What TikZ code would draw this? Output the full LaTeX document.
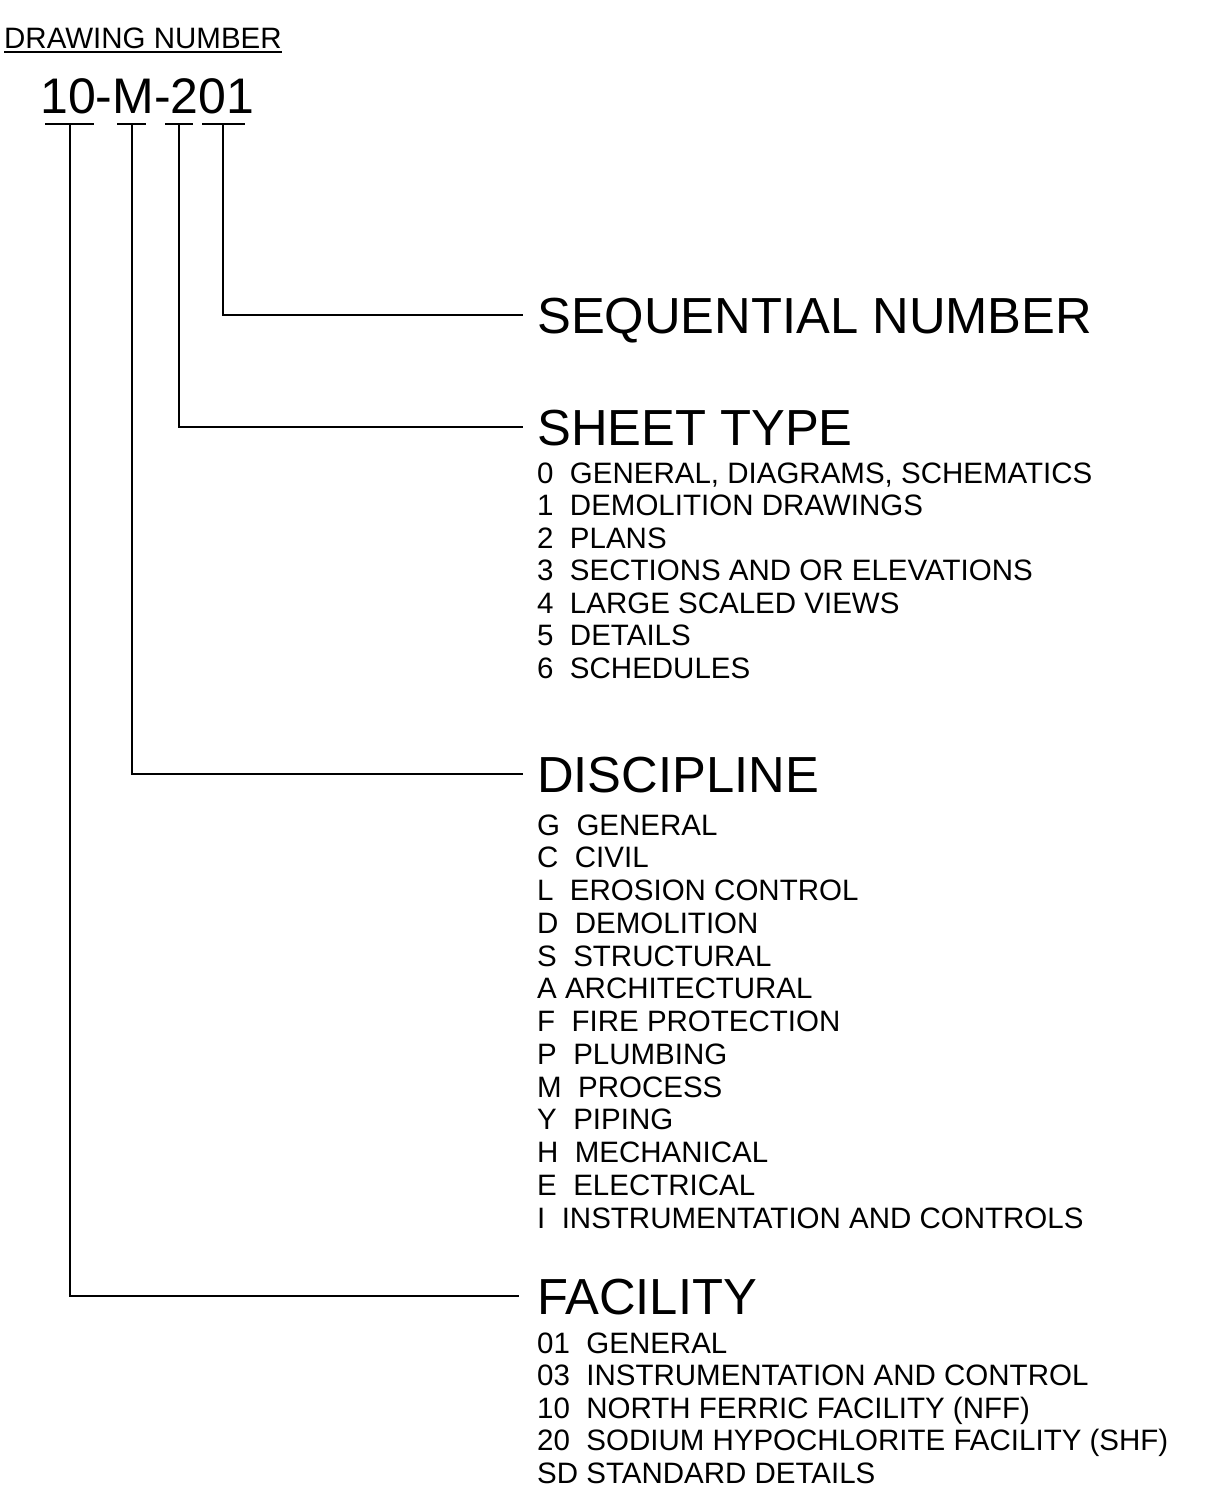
\documentclass[tikz,border=0pt]{standalone}
\usepackage{fontspec}
\setmainfont{Liberation Sans}
\usetikzlibrary{positioning, calc}

\tikzset{
    headtext/.style={anchor=base west, inner sep=0pt, text depth=0pt, font=\fontsize{50.7}{60}\selectfont},
    itemtext/.style={anchor=base west, inner sep=0pt, font=\fontsize{29.5}{33}\selectfont},
    leader/.style={line width=2pt},
}

\begin{document}
\begin{tikzpicture}[x=1pt, y=-1pt]
    \useasboundingbox (0,0) rectangle (1209,1499);

    % Title and number
    \node[itemtext, text depth=0pt] (dwgtitle) at (4,48) {DRAWING NUMBER};
    \draw[line width=1.6pt] ([yshift=-4pt]dwgtitle.base west) -- ([yshift=-4pt]dwgtitle.base east);
    \node[headtext, font=\fontsize{50}{60}\selectfont] (dwgnum) at (40,113) {10-M-201};

    % Ticks under the number
    \coordinate (facTick) at (70,124);
    \coordinate (discTick) at (132,124);
    \coordinate (sheetTick) at (179,124);
    \coordinate (seqTick) at (223,124);
    \draw[leader] (45,124) -- (94,124);
    \draw[leader] (117,124) -- (146,124);
    \draw[leader] (165,124) -- (193,124);
    \draw[leader] (202,124) -- (245,124);

    % Headings
    \node[headtext] (seq) at (537,333) {SEQUENTIAL NUMBER};
    \node[headtext] (sheet) at (537,445) {SHEET TYPE};
    \node[headtext] (disc) at (537,792) {DISCIPLINE};
    \node[headtext] (fac) at (537,1314) {FACILITY};

    % Leaders
    \draw[leader] (seqTick) |- ([xshift=-14pt]seq.west);
    \draw[leader] (sheetTick) |- ([xshift=-14pt]sheet.west);
    \draw[leader] (discTick) |- ([xshift=-14pt]disc.west);
    \draw[leader] (facTick) |- ([xshift=-18pt]fac.west);

    % Sheet type list
    \foreach \txt [count=\i] in {
        {0~~GENERAL, DIAGRAMS, SCHEMATICS},
        {1~~DEMOLITION DRAWINGS},
        {2~~PLANS},
        {3~~SECTIONS AND OR ELEVATIONS},
        {4~~LARGE SCALED VIEWS},
        {5~~DETAILS},
        {6~~SCHEDULES}}
        \node[itemtext] (sheet\i) at (537,{483+(\i-1)*32.5}) {\txt};

    % Discipline list
    \foreach \txt [count=\i] in {
        {G~~GENERAL},
        {C~~CIVIL},
        {L~~EROSION CONTROL},
        {D~~DEMOLITION},
        {S~~STRUCTURAL},
        {A~ARCHITECTURAL},
        {F~~FIRE PROTECTION},
        {P~~PLUMBING},
        {M~~PROCESS},
        {Y~~PIPING},
        {H~~MECHANICAL},
        {E~~ELECTRICAL},
        {I~~INSTRUMENTATION AND CONTROLS}}
        \node[itemtext] (disc\i) at (537,{835+(\i-1)*32.75}) {\txt};

    % Facility list
    \foreach \txt [count=\i] in {
        {01~~GENERAL},
        {03~~INSTRUMENTATION AND CONTROL},
        {10~~NORTH FERRIC FACILITY (NFF)},
        {20~~SODIUM HYPOCHLORITE FACILITY (SHF)},
        {SD STANDARD DETAILS}}
        \node[itemtext] (fac\i) at (537,{1353+(\i-1)*32.5}) {\txt};
\end{tikzpicture}
\end{document}
